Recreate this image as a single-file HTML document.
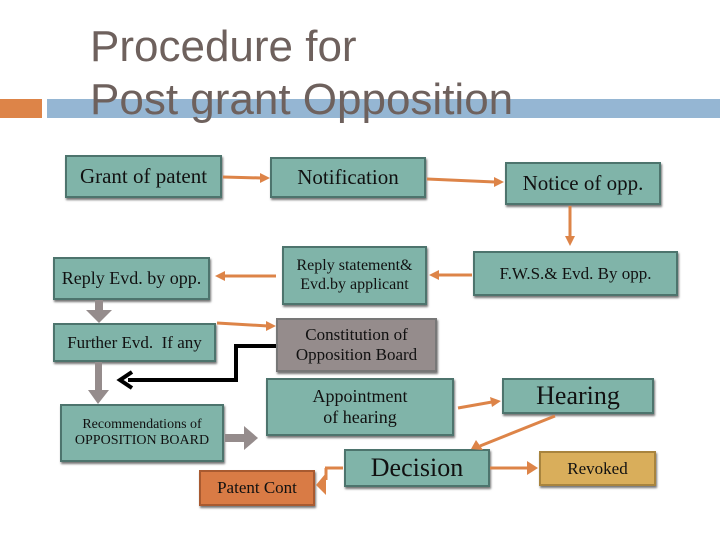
<!DOCTYPE html>
<html><head><meta charset="utf-8"><style>
body{margin:0;width:720px;height:540px;background:#fff;position:relative;overflow:hidden;font-family:"Liberation Serif",serif}
.t{position:absolute;left:90px;font-family:"Liberation Sans",sans-serif;font-size:44px;color:#6e615d;line-height:1}
.b{position:absolute;box-sizing:border-box;background:#80b4a9;border:2px solid #4d746d;box-shadow:1px 2px 2px #777;display:flex;align-items:center;justify-content:center;text-align:center;color:#111;line-height:1.15}
</style></head><body>
<div style="position:absolute;left:0;top:99px;width:42px;height:19px;background:#dd8448"></div>
<div style="position:absolute;left:47px;top:99px;width:673px;height:19px;background:#95b6d3"></div>
<div class="t" style="top:25px">Procedure for</div>
<div class="t" style="top:78px">Post grant Opposition</div>

<div class="b" style="left:65px;top:155px;width:157px;height:43px;font-size:21px">Grant of patent</div>
<div class="b" style="left:270px;top:157px;width:156px;height:41px;font-size:21px">Notification</div>
<div class="b" style="left:505px;top:162px;width:156px;height:43px;font-size:21px">Notice of opp.</div>
<div class="b" style="left:53px;top:257px;width:157px;height:43px;font-size:18px">Reply Evd. by opp.</div>
<div class="b" style="left:282px;top:246px;width:145px;height:59px;font-size:16px">Reply statement&amp;<br>Evd.by applicant</div>
<div class="b" style="left:473px;top:251px;width:205px;height:45px;font-size:17px">F.W.S.&amp; Evd. By opp.</div>
<div class="b" style="left:53px;top:323px;width:163px;height:39px;font-size:17px">Further Evd.&nbsp; If any</div>
<div class="b" style="left:276px;top:318px;width:161px;height:54px;font-size:17px;background:#958c8c;border-color:#777">Constitution of<br>Opposition Board</div>
<div class="b" style="left:266px;top:378px;width:188px;height:58px;font-size:18px">Appointment<br>of hearing</div>
<div class="b" style="left:502px;top:378px;width:152px;height:36px;font-size:26px">Hearing</div>
<div class="b" style="left:60px;top:404px;width:164px;height:58px;font-size:14px">Recommendations of<br>OPPOSITION BOARD</div>
<div class="b" style="left:344px;top:449px;width:146px;height:38px;font-size:26px">Decision</div>
<div class="b" style="left:539px;top:451px;width:117px;height:35px;font-size:17px;background:#d9ae5b;border-color:#a8843e">Revoked</div>
<div class="b" style="left:199px;top:470px;width:116px;height:36px;font-size:17px;background:#d97b45;border-color:#a85a30">Patent Cont</div>

<svg width="720" height="540" style="position:absolute;left:0;top:0">
<g stroke="#dd8448" stroke-width="3" fill="#dd8448">
<line x1="223" y1="177" x2="262" y2="178"/><polygon points="260,173 270,178 260,183" stroke="none"/>
<line x1="427" y1="179" x2="495" y2="182"/><polygon points="494,177 504,182 494,187" stroke="none"/>
<line x1="570" y1="206" x2="570" y2="238"/><polygon points="565,236 570,246 575,236" stroke="none"/>
<line x1="472" y1="275" x2="437" y2="275"/><polygon points="439,270 429,275 439,280" stroke="none"/>
<line x1="276" y1="276" x2="223" y2="276"/><polygon points="225,271 215,276 225,281" stroke="none"/>
<line x1="217" y1="323" x2="268" y2="326"/><polygon points="266,321 276,326 266,331" stroke="none"/>
<line x1="458" y1="408" x2="492" y2="402"/><polygon points="490,397 501,401 492,407" stroke="none"/>
<line x1="555" y1="416" x2="480" y2="446"/><polygon points="476,440 471,449 483,450" stroke="none"/>
<line x1="490" y1="468" x2="528" y2="468"/><polygon points="527,461 538,468 527,475" stroke="none"/>
<line x1="343" y1="468" x2="325" y2="468"/><line x1="326" y1="468" x2="326" y2="480"/><polygon points="326,473 316,485 326,495" stroke="none"/>
</g>
<g fill="#958c8c">
<rect x="95" y="300" width="8" height="12"/><polygon points="86,310 112,310 99,323"/>
<rect x="95" y="362" width="7" height="30"/><polygon points="88,390 109,390 98,404"/>
<rect x="225" y="434" width="20" height="8"/><polygon points="244,426 258,438 244,450"/>
</g>
<polyline points="276,346 236,346 236,380 128,380" fill="none" stroke="#000" stroke-width="4"/>
<polyline points="132,372 120,380 132,388" fill="none" stroke="#000" stroke-width="4"/>
</svg>
</body></html>
